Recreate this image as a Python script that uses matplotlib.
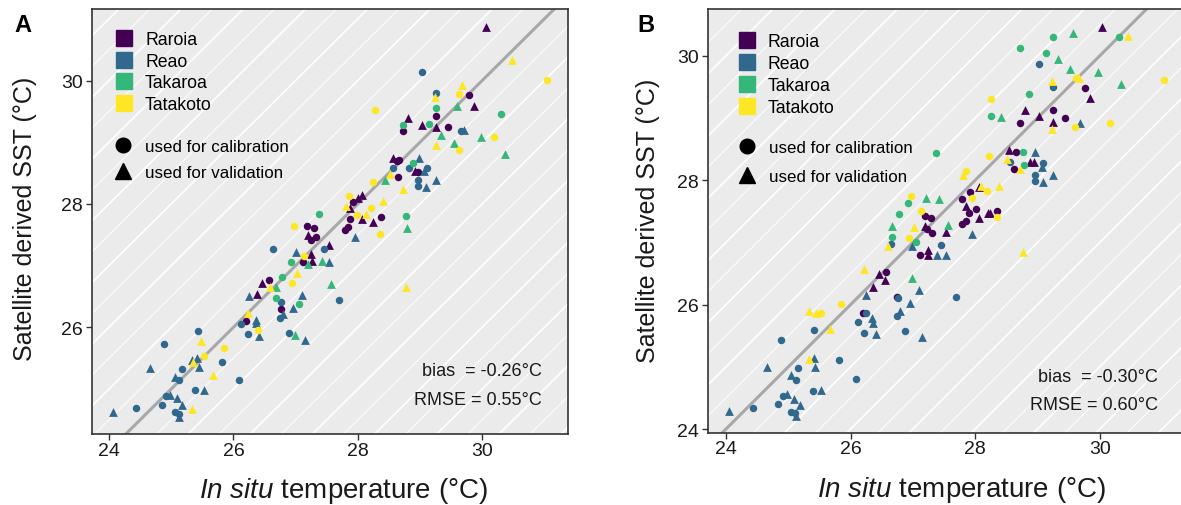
import matplotlib
matplotlib.use("Agg")
import matplotlib.pyplot as plt
from matplotlib.lines import Line2D
import numpy as np

plt.rcParams['font.family'] = ['Liberation Sans', 'DejaVu Sans']
plt.rcParams['mathtext.fontset'] = 'custom'
plt.rcParams['mathtext.it'] = 'Liberation Sans:italic'
plt.rcParams['mathtext.rm'] = 'Liberation Sans'

# ---------------- categories ----------------
sites = ['Raroia', 'Reao', 'Takaroa', 'Tatakoto']
site_codes = ['Ra', 'Re', 'Tk', 'Tt']
site_colors = ['#440154', '#31688E', '#35B779', '#FDE725']
use_codes = ['c', 'v']
use_labels = ['used for calibration', 'used for validation']
use_markers = ['o', '^']

# ---------------- panel A data ----------------
a_site = ['Re','Re','Re','Re','Re','Re','Re','Re','Re','Re','Tt','Re','Re','Re','Re','Re','Re','Re','Re','Tt',
          'Re','Re','Tt','Tt','Re','Tt','Re','Tt','Re','Re','Re','Ra','Tt','Re','Re','Re','Tt','Re','Ra','Ra',
          'Ra','Tt','Tk','Tk','Tk','Re','Ra','Re','Re','Re','Tk','Re','Tt','Re','Tk','Re','Tt','Re','Tk','Re',
          'Tt','Ra','Tk','Ra','Ra','Tk','Re','Re','Ra','Tk','Re','Tt','Ra','Ra','Ra','Ra','Ra','Tk','Ra','Ra',
          'Re','Tt','Ra','Tt','Ra','Tt','Tt','Ra','Ra','Tt','Tt','Ra','Ra',
          'Ra','Tt','Tt','Re','Tt','Tt','Re','Tt','Ra','Tt','Tk','Ra','Tk','Ra','Ra','Tk','Ra','Ra','Tk','Ra',
          'Ra','Re','Re','Tk','Tk','Tt','Tt','Tk','Tk','Tt','Tk','Ra','Ra','Ra','Re','Tk','Re','Re','Ra','Ra',
          'Re','Re','Tt','Ra','Tk','Tt','Re','Re','Re','Re','Tt','Tt','Ra','Ra','Tk','Tk','Tt']
a_use = ['v','c','c','c','v','v','v','c','c','v','v','c','v','v','c','v','c','c','v','v',
         'v','v','c','v','c','v','c','c','c','c','c','c','v','v','v','v','c','v','v','v',
         'c','v','v','c','c','c','c','c','v','c','v','v','c','v','c','v','v','c','c','v',
         'c','c','v','v','v','v','v','c','v','v','c','c','c','c','v','c','c','c','c','c',
         'v','v','c','c','v','v','c','v','c','c','v','c','v',
         'v','v','c','c','v','c','c','v','c','c','v','v','c','c','v','c','c','v','c','v',
         'c','v','c','v','v','v','c','v','c','c','v','v','c','c','v','c','c','c','v','c',
         'c','v','v','c','v','c','v','c','c','v','v','c','v','v','c','v','v']
a_insitu = [24.06,24.43,24.85,24.92,24.98,25.10,25.18,25.06,25.13,25.13,25.34,25.39,25.53,24.66,24.88,25.06,25.13,25.17,25.33,25.35,
            25.42,25.45,25.53,25.48,25.43,25.68,25.82,25.85,26.09,26.13,26.23,26.21,26.24,26.25,26.36,26.37,26.39,26.41,26.38,26.46,
            26.57,26.59,26.68,26.68,26.78,26.76,26.76,26.75,26.80,26.89,26.99,27.15,26.95,26.96,27.05,27.10,27.03,26.64,26.92,27.01,
            27.14,27.12,27.20,27.25,27.27,27.42,27.54,27.46,27.54,27.57,27.70,26.97,27.19,27.30,27.20,27.24,27.32,27.37,27.80,27.85,
            27.95,27.81,27.93,27.98,28.06,28.13,28.21,28.24,28.37,28.35,28.40,27.87,27.87,
            30.06,30.48,31.04,29.03,29.68,29.63,29.26,29.24,29.79,28.28,29.59,29.86,29.26,29.26,28.81,28.73,28.73,29.04,29.15,29.25,
            29.45,29.70,29.66,29.34,29.54,29.25,29.62,29.98,30.31,30.19,30.36,28.56,28.67,28.63,28.98,28.88,28.57,28.82,28.92,28.97,
            29.11,29.06,28.52,28.64,28.43,28.24,29.26,28.97,28.97,29.10,28.73,27.86,28.00,28.07,28.77,28.79,28.77]
a_sat = [24.63,24.69,24.74,24.88,24.90,24.85,24.74,24.63,24.59,24.55,24.68,24.98,24.99,25.34,25.73,25.19,25.14,25.32,25.47,25.44,
         25.50,25.36,25.54,25.78,25.94,25.23,25.44,25.67,25.15,26.06,25.89,26.11,26.24,26.50,26.12,26.07,25.96,25.86,26.54,26.72,
         26.76,26.65,26.65,26.47,26.82,26.41,26.30,26.15,26.22,25.90,25.88,25.80,26.72,26.32,26.38,26.53,26.88,27.27,27.06,27.22,
         27.15,27.06,27.02,27.19,27.08,27.08,27.06,27.27,27.33,26.70,26.45,27.64,27.65,27.61,27.50,27.42,27.46,27.84,27.57,27.62,
         27.46,27.97,28.03,27.82,27.76,27.84,27.93,27.71,27.78,27.51,28.04,27.76,27.93,
         30.87,30.34,30.01,30.14,29.92,29.78,29.80,29.74,29.77,29.53,29.58,29.59,29.55,29.43,29.40,29.28,29.18,29.28,29.29,29.25,
         29.25,29.20,29.18,29.12,28.99,28.96,28.88,29.08,29.45,29.08,28.81,28.74,28.71,28.69,28.74,28.67,28.59,28.58,28.53,28.51,
         28.58,28.53,28.48,28.44,28.39,28.36,28.39,28.39,28.29,28.28,28.24,28.13,28.09,28.14,27.81,27.61,26.65]
a_bias = -0.26
a_rmse = 0.55

# ---------------- panel B data ----------------
b_site = ['Re','Re','Re','Re','Re','Re','Re','Re','Re','Re','Re','Re','Re','Re','Re','Tt','Re','Re','Re','Re',
          'Re','Tt','Tt','Tt','Tt','Re','Tt','Re','Re','Re','Ra','Re','Re','Re','Re','Re','Tt','Ra','Ra','Ra',
          'Ra','Re','Re','Re','Re','Re','Re','Re','Re','Tt','Re','Tk','Tk','Tt','Tt','Tk','Re','Tk','Ra','Ra',
          'Ra','Ra','Ra','Ra','Re','Re','Re','Ra','Tk','Ra','Ra','Re','Ra','Tk',
          'Ra','Tk','Tk','Tk','Tt','Tk','Tk','Tk','Re','Tk','Tk','Tt','Tt','Tt','Re','Tk','Tt','Ra','Ra','Tk',
          'Tt','Tk','Tk','Ra','Ra','Ra','Ra','Ra','Ra','Tt','Tt','Re','Tt','Tk','Tt','Ra','Ra','Tk','Tt','Re',
          'Re','Ra','Tt','Tk','Ra','Ra','Re','Re','Re','Re','Re','Re','Tt','Tt','Tt','Tk','Tk','Tk','Tt','Tt',
          'Ra','Ra','Tt','Tt','Ra','Tt','Ra','Ra','Ra','Ra','Ra','Ra','Ra','Ra','Ra','Tt','Tt']
b_use = ['v','c','c','c','v','v','v','c','c','v','v','c','v','c','c','v','v','v','c','v',
         'c','v','v','c','v','c','c','c','c','c','c','c','v','v','v','v','v','v','v','c',
         'v','c','c','v','c','v','v','v','c','v','c','c','v','c','v','c','v','v','c','v',
         'v','v','c','c','v','v','c','v','v','c','c','v','c','c',
         'v','c','v','c','v','c','c','v','c','v','v','c','v','v','c','v','c','c','v','c',
         'c','c','v','v','c','v','c','v','c','v','c','v','c','c','c','v','c','c','v','c',
         'v','c','v','c','v','v','c','v','c','c','v','v','v','c','c','c','v','v','v','c',
         'v','c','v','c','c','c','c','c','v','c','c','v','v','v','c','c','v']
b_insitu = [24.05,24.43,24.84,24.91,24.98,25.09,25.18,25.05,25.11,25.13,24.66,24.88,25.05,25.12,25.16,25.33,25.41,25.43,25.39,25.52,
            25.42,25.33,25.44,25.52,25.67,25.82,25.85,26.09,26.12,26.22,26.20,26.25,26.25,26.34,26.36,26.40,26.22,26.36,26.46,26.57,
            26.56,26.74,26.76,26.80,26.88,26.95,27.09,27.15,27.69,26.60,26.65,26.67,26.66,26.94,27.02,27.05,26.99,26.99,27.11,27.24,
            27.25,27.19,27.23,27.31,27.38,27.53,27.45,27.53,27.57,27.78,27.86,27.95,26.75,26.78,
            30.03,29.25,29.57,30.31,30.46,28.72,29.14,29.33,29.02,29.52,29.97,29.61,29.66,29.23,29.25,30.34,31.03,29.77,29.85,28.87,
            28.26,28.26,28.41,28.80,29.25,29.02,28.72,29.25,29.44,29.24,29.60,29.69,30.17,27.37,28.22,28.54,28.65,28.76,28.51,28.56,
            28.96,28.62,28.72,28.78,28.88,28.95,29.09,29.07,28.96,28.96,29.09,29.25,27.80,27.85,26.97,26.92,27.21,27.42,28.10,28.19,
            28.06,27.92,28.38,27.95,27.79,27.13,27.19,27.29,27.86,28.01,27.90,28.06,28.20,28.24,28.35,28.35,28.76]
b_sat = [24.29,24.33,24.40,24.53,24.57,24.49,24.39,24.28,24.26,24.21,24.99,25.43,24.87,24.79,24.98,25.13,25.14,24.99,24.61,24.63,
         25.59,25.89,25.86,25.86,25.60,25.11,26.01,24.80,25.72,25.55,25.86,25.86,26.15,25.78,25.70,25.52,26.57,26.29,26.49,26.52,
         26.40,25.82,26.11,25.90,25.58,26.03,26.23,25.48,26.13,26.94,26.97,27.08,27.26,27.07,27.24,27.00,26.95,26.43,26.79,26.87,
         26.79,27.27,27.22,27.15,26.79,26.79,26.96,27.17,27.28,27.30,27.35,27.14,26.12,27.46,
         30.47,30.30,30.37,30.30,30.31,30.12,30.05,29.95,29.86,29.79,29.74,29.64,29.65,29.60,29.50,29.54,29.61,29.48,29.32,29.39,
         29.30,29.03,29.01,29.13,29.13,29.03,28.92,28.94,29.00,28.82,28.86,28.92,28.92,28.44,28.39,28.49,28.46,28.46,28.34,28.30,
         28.45,28.18,28.18,28.25,28.29,28.29,28.27,28.22,28.09,27.99,27.97,28.09,28.09,28.15,27.75,27.63,27.71,27.70,27.90,27.82,
         27.89,27.81,27.91,27.71,27.69,27.51,27.42,27.39,27.59,27.54,27.48,27.40,27.48,27.48,27.51,27.41,26.84]
b_bias = -0.30
b_rmse = 0.60

x_ticks = [24, 26, 28, 30]
a_y_ticks = [26, 28, 30]
b_y_ticks = [24, 26, 28, 30]

W, H = 1181, 506
fig = plt.figure(figsize=(W / 100, H / 100), dpi=100)

def px_box(l, t, r, b):
    return [l / W, 1 - b / H, (r - l) / W, (b - t) / H]

axA = fig.add_axes(px_box(91.7, 10, 568.3, 435))
axB = fig.add_axes(px_box(708, 10, 1184.6, 433.5))

def draw_panel(ax, site, use, xs, ys, xlim, ylim, yticks, bias, rmse, stat_pos, leg1, leg2):
    ax.set_facecolor('#EBEBEB')
    ax.set_xlim(*xlim)
    ax.set_ylim(*ylim)
    # diagonal white background lines
    for k, c in enumerate(np.arange(-10, 10.01, 0.5)):
        ax.axline((24, 24 + c), slope=1, color='white',
                  lw=1.2 if k % 2 == 0 else 0.7, zorder=0.5)
    ax.axline((24, 24), slope=1, color='#A8A8A8', lw=2.2, zorder=1)
    xs = np.array(xs); ys = np.array(ys)
    site = np.array(site); use = np.array(use)
    for sc, col in zip(site_codes, site_colors):
        for uc, mk in zip(use_codes, use_markers):
            m = (site == sc) & (use == uc)
            ax.scatter(xs[m], ys[m], c=col, marker=mk, s=29 if mk == 'o' else 40,
                       linewidths=0, zorder=3)
    ax.set_xticks(x_ticks)
    ax.set_yticks(yticks)
    ax.tick_params(axis='both', length=4, width=1.0, color='#333333',
                   labelsize=14, labelcolor='#1a1a1a')
    ax.tick_params(axis='x', pad=1.5)
    ax.tick_params(axis='y', pad=2.5)
    for s in ax.spines.values():
        s.set_color('#333333')
        s.set_linewidth(1.2)
    ax.text(stat_pos[0], stat_pos[1], f'bias  = {bias:.2f}°C', transform=ax.transAxes,
            ha='right', va='center', fontsize=13, color='#1a1a1a')
    ax.text(stat_pos[0], stat_pos[2], f'RMSE = {rmse:.2f}°C', transform=ax.transAxes,
            ha='right', va='center', fontsize=13, color='#1a1a1a')
    h1 = [Line2D([], [], ls='none', marker='s', color=c, markersize=11, label=s)
          for s, c in zip(sites, site_colors)]
    l1 = ax.legend(handles=h1, loc='upper left', bbox_to_anchor=leg1[:2], frameon=False,
                   fontsize=12.7, handlelength=1.0, handletextpad=0.68, labelspacing=leg1[2],
                   borderpad=0, borderaxespad=0)
    ax.add_artist(l1)
    h2 = [Line2D([], [], ls='none', marker=m, color='black',
                 markersize=10.5 if m == 'o' else 11.5, label=l)
          for m, l in zip(use_markers, use_labels)]
    ax.legend(handles=h2, loc='upper left', bbox_to_anchor=leg2[:2], frameon=False,
              fontsize=12.2, handlelength=1.0, handletextpad=0.78, labelspacing=leg2[2],
              borderpad=0, borderaxespad=0)

draw_panel(axA, a_site, a_use, a_insitu, a_sat, (23.722, 31.384), (24.271, 31.159),
           a_y_ticks, a_bias, a_rmse, (0.944, 0.149, 0.082),
           (0.0497, 0.948, 0.26), (0.0486, 0.6936, 0.64))
draw_panel(axB, b_site, b_use, b_insitu, b_sat, (23.711, 31.361), (23.944, 30.752),
           b_y_ticks, b_bias, b_rmse, (0.944, 0.132, 0.067),
           (0.0627, 0.943, 0.29), (0.0647, 0.691, 0.84))

xlabel = r'$\mathit{In\ situ}$ temperature (°C)'
ylabel = 'Satellite derived SST (°C)'
fig.text(344 / W, 1 - 498 / H, xlabel, ha='center', va='baseline', fontsize=20, color='#1a1a1a')
fig.text(962 / W, 1 - 497 / H, xlabel, ha='center', va='baseline', fontsize=20, color='#1a1a1a')
fig.text(25 / W, 1 - 219 / H, ylabel, rotation=90, ha='center', va='center', fontsize=18, color='#1a1a1a')
fig.text(647.5 / W, 1 - 221 / H, ylabel, rotation=90, ha='center', va='center', fontsize=18, color='#1a1a1a')
fig.text(23 / W, 1 - 25 / H, 'A', ha='center', va='center', fontsize=17, fontweight='bold')
fig.text(646 / W, 1 - 25 / H, 'B', ha='center', va='center', fontsize=17, fontweight='bold')

fig.savefig('out.png', dpi=100)
